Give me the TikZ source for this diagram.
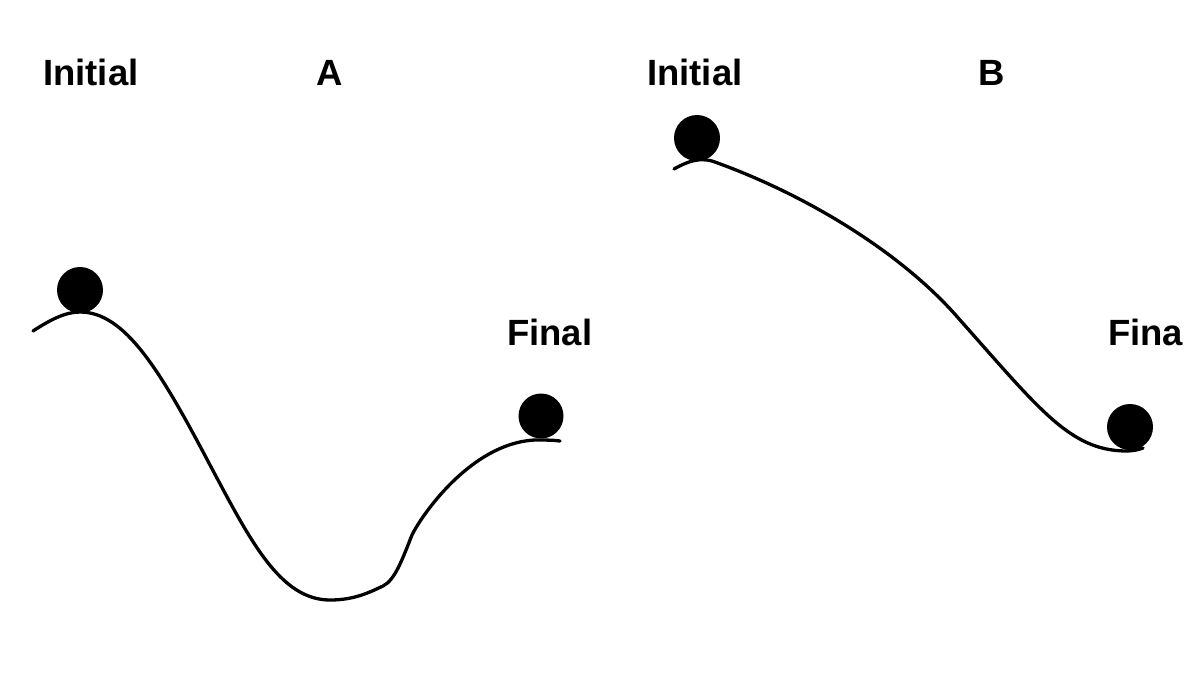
\documentclass[tikz,border=0pt]{standalone}
\usepackage{fontspec}
\setmainfont{Liberation Sans}
\begin{document}
\begin{tikzpicture}[x=1pt,y=-1pt,
  lbl/.style={inner sep=0pt,font=\fontsize{36.5}{40}\selectfont\bfseries},
  ball/.style={circle,fill=black,inner sep=0pt,minimum size=46pt},
  track/.style={line width=3.3pt,line cap=round}]
\useasboundingbox[fill=white] (0,0) rectangle (1185,691);
% labels
\node[lbl,anchor=base west] (initA) at (43,85) {Initial};
\node[lbl,anchor=base] (labA) at (330,85) {A};
\node[lbl,anchor=base west] (initB) at (647,85) {Initial};
\node[lbl,anchor=base] (labB) at (992,85) {B};
\node[lbl,anchor=base west] (finA) at (507,345) {Final};
\node[lbl,anchor=base west] (finB) at (1108,345) {Fina};
% track A
\draw[track] (33,331) .. controls (50,320) and (65,312) .. (80,312)
  .. controls (125,312) and (160,370) .. (210,465)
  .. controls (250,540) and (280,600) .. (330,600)
  .. controls (355,600) and (370,592) .. (383,586)
  .. controls (395,580) and (402,560) .. (412,535)
  .. controls (420,518) and (470,443) .. (535,440)
  .. controls (545,440) and (553,440) .. (560,441);
% track B
\draw[track] (674,169) .. controls (690,160) and (700,158) .. (712,161)
  .. controls (800,192) and (900,250) .. (960,320)
  .. controls (1040,410) and (1070,450) .. (1125,451)
  .. controls (1135,451) and (1140,449) .. (1143,448);
% balls
\node[ball] (ballA1) at (80,290) {};
\node[ball,minimum size=45pt] (ballA2) at (541,416) {};
\node[ball] (ballB1) at (697,138) {};
\node[ball] (ballB2) at (1130,427) {};
\end{tikzpicture}
\end{document}
